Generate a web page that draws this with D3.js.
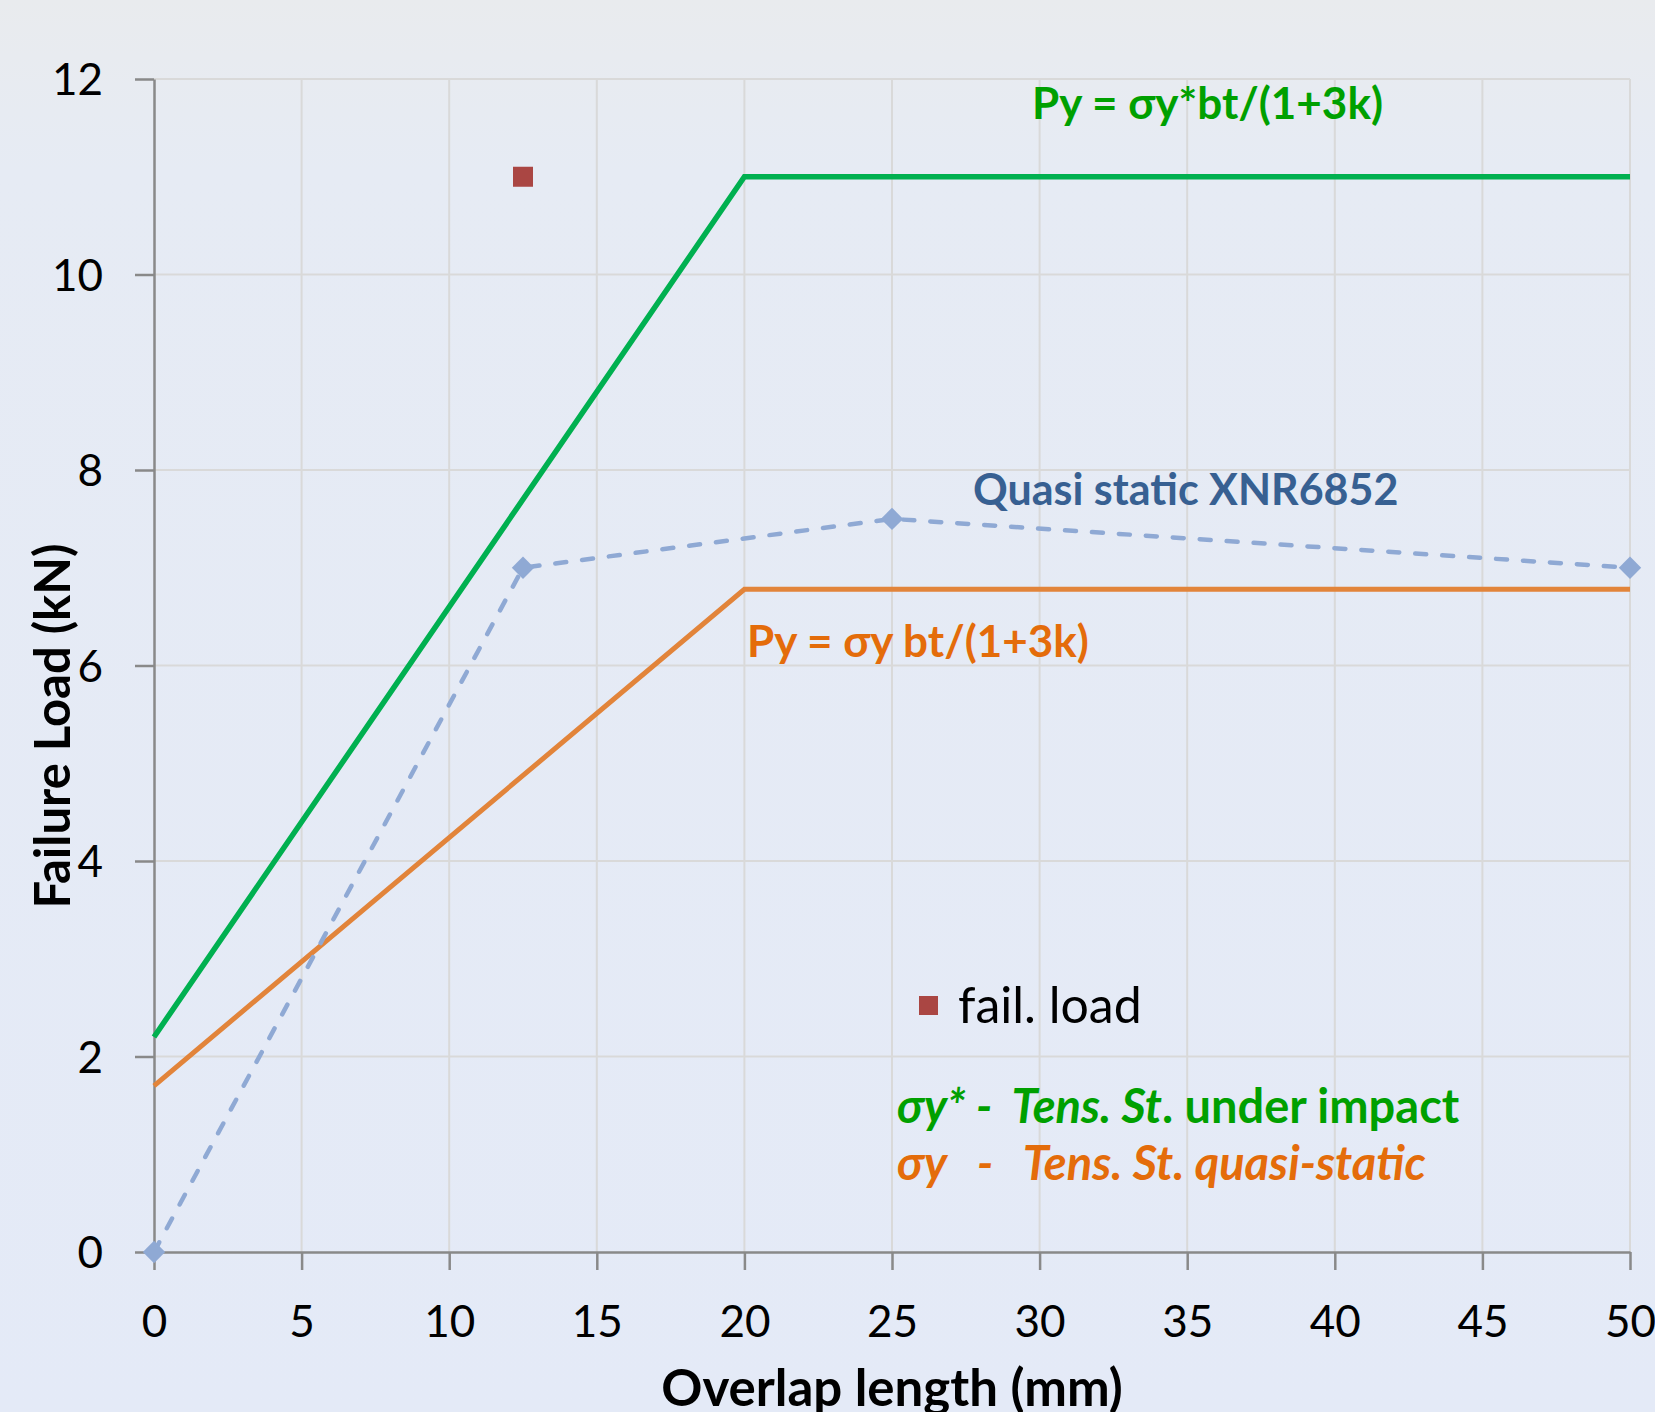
<!DOCTYPE html>
<html>
<head>
<meta charset="utf-8">
<script src="https://cdn.jsdelivr.net/npm/d3@7"></script>
<style>
  html, body { margin: 0; padding: 0; overflow: hidden; }
  svg { display: block; font-family: Lato, "Open Sans", sans-serif; }
</style>
</head>
<body>
<svg id="chart" width="1655" height="1412"></svg>
<script>
// data
const x_ticks = [0, 5, 10, 15, 20, 25, 30, 35, 40, 45, 50]
const y_ticks = [0, 2, 4, 6, 8, 10, 12]

const impact_x = [0, 20, 50]
const impact_y = [2.2, 11, 11]

const static_x = [0, 20, 50]
const static_y = [1.7, 6.78, 6.78]

const test_x = [0, 12.5, 25, 50]
const test_y = [0, 7.0, 7.5, 7.0]

const fail_x = [12.5]
const fail_y = [11]

const color_dict = {
  'impact': '#00b050',
  'impact-text': '#00a000',
  'static': '#e2843a',
  'static-text': '#e46c0a',
  'test': '#8fa9d4',
  'test-text': '#376092',
  'fail': '#aa4643',
  'grid': '#d9d9d9',
  'axis': '#898989'
}

const svg = d3.select('#chart')
const width = 1655, height = 1412

// background
let defs = svg.append('defs')
let grad = defs.append('linearGradient')
  .attr('id', 'bg-grad')
  .attr('x1', 0).attr('y1', 0).attr('x2', 0).attr('y2', 1)
grad.append('stop').attr('offset', 0).attr('stop-color', '#e9ebee')
grad.append('stop').attr('offset', 0.12).attr('stop-color', '#e6ebf4')
grad.append('stop').attr('offset', 1).attr('stop-color', '#e4eaf7')

svg.append('rect')
  .attr('width', width)
  .attr('height', height)
  .attr('fill', 'url(#bg-grad)')

const x = d3.scaleLinear().domain([0, 50]).range([154, 1630])
const y = d3.scaleLinear().domain([0, 12]).range([1252, 79])

// grid
let grid = svg.append('g')
grid.selectAll('.vgrid')
  .data(x_ticks.filter(d => d > 0))
  .join('line')
  .attr('x1', d => x(d)).attr('x2', d => x(d))
  .attr('y1', y(0)).attr('y2', y(12))
  .style('stroke', color_dict['grid'])
  .style('stroke-width', 2)
grid.selectAll('.hgrid')
  .data(y_ticks.filter(d => d > 0))
  .join('line')
  .attr('x1', x(0)).attr('x2', x(50))
  .attr('y1', d => y(d)).attr('y2', d => y(d))
  .style('stroke', color_dict['grid'])
  .style('stroke-width', 2)

// axes
let x_axis = svg.append('g')
  .attr('transform', `translate(0,${y(0)})`)
  .call(d3.axisBottom(x).tickValues(x_ticks).tickSize(18).tickSizeOuter(0))
let y_axis = svg.append('g')
  .attr('transform', `translate(${x(0)},0)`)
  .call(d3.axisLeft(y).tickValues(y_ticks).tickSize(19).tickSizeOuter(0))

for (let ax of [x_axis, y_axis]) {
  ax.select('.domain').style('stroke', color_dict['axis']).style('stroke-width', 2.5)
  ax.selectAll('.tick line').style('stroke', color_dict['axis']).style('stroke-width', 2.5)
  ax.selectAll('.tick text')
    .style('font-family', 'Lato, sans-serif')
    .style('font-size', '44px')
    .style('fill', '#000')
}
x_axis.selectAll('.tick text').attr('y', 69).attr('dy', '0.36em')
y_axis.selectAll('.tick text').attr('x', -51).attr('dy', '0.36em')

// axis titles (cut at the bottom edge, as in the original)
svg.append('text')
  .attr('x', 892)
  .attr('y', 1406)
  .attr('text-anchor', 'middle')
  .style('font-size', '51px')
  .style('font-weight', 'bold')
  .text('Overlap length (mm)')

svg.append('text')
  .attr('transform', `translate(70,${726}) rotate(-90)`)
  .attr('text-anchor', 'middle')
  .style('font-size', '49px')
  .style('font-weight', 'bold')
  .text('Failure Load (kN)')

// lines
const line = d3.line().x(d => x(d[0])).y(d => y(d[1]))

svg.append('path')
  .datum(d3.zip(static_x, static_y))
  .attr('d', line)
  .style('fill', 'none')
  .style('stroke', color_dict['static'])
  .style('stroke-width', 5)

svg.append('path')
  .datum(d3.zip(impact_x, impact_y))
  .attr('d', line)
  .style('fill', 'none')
  .style('stroke', color_dict['impact'])
  .style('stroke-width', 5.5)

svg.append('path')
  .datum(d3.zip(test_x, test_y))
  .attr('d', line)
  .style('fill', 'none')
  .style('stroke', color_dict['test'])
  .style('stroke-width', 4.5)
  .style('stroke-dasharray', '11,16')
  .style('stroke-linecap', 'round')

svg.append('g')
  .selectAll('path')
  .data(d3.zip(test_x, test_y))
  .join('path')
  .attr('d', d3.symbol(d3.symbolDiamond2, 320))
  .attr('transform', d => `translate(${x(d[0])},${y(d[1])})`)
  .style('fill', color_dict['test'])

// failure load point
svg.append('g')
  .selectAll('rect')
  .data(d3.zip(fail_x, fail_y))
  .join('rect')
  .attr('x', d => x(d[0]) - 10)
  .attr('y', d => y(d[1]) - 10)
  .attr('width', 20)
  .attr('height', 20)
  .style('fill', color_dict['fail'])

// labels
svg.append('text')
  .attr('x', 1032)
  .attr('y', 119)
  .style('font-size', '44px')
  .style('font-weight', 'bold')
  .style('fill', color_dict['impact-text'])
  .text('Py = σy*bt/(1+3k)')

svg.append('text')
  .attr('x', 973)
  .attr('y', 505)
  .style('font-size', '43px')
  .style('font-weight', 'bold')
  .style('fill', color_dict['test-text'])
  .text('Quasi static XNR6852')

svg.append('text')
  .attr('x', 747)
  .attr('y', 657)
  .style('font-size', '44px')
  .style('font-weight', 'bold')
  .style('fill', color_dict['static-text'])
  .text('Py = σy bt/(1+3k)')

// legend
svg.append('rect')
  .attr('x', 919).attr('y', 996)
  .attr('width', 19).attr('height', 19)
  .style('fill', color_dict['fail'])
svg.append('text')
  .attr('x', 958)
  .attr('y', 1023)
  .style('font-size', '50px')
  .text('fail. load')

// notes
let note1 = svg.append('text')
  .attr('x', 897)
  .attr('y', 1123)
  .attr('xml:space', 'preserve')
  .style('white-space', 'pre')
  .style('font-size', '47px')
  .style('font-weight', 'bold')
  .style('fill', color_dict['impact-text'])
note1.append('tspan').style('font-style', 'italic').text('σy* -  Tens. St')
note1.append('tspan').text('. under impact')

svg.append('text')
  .attr('x', 897)
  .attr('y', 1180)
  .attr('xml:space', 'preserve')
  .style('white-space', 'pre')
  .style('font-size', '47px')
  .style('font-weight', 'bold')
  .style('font-style', 'italic')
  .style('fill', color_dict['static-text'])
  .text('σy   -   Tens. St. quasi-static')
</script>
</body>
</html>
